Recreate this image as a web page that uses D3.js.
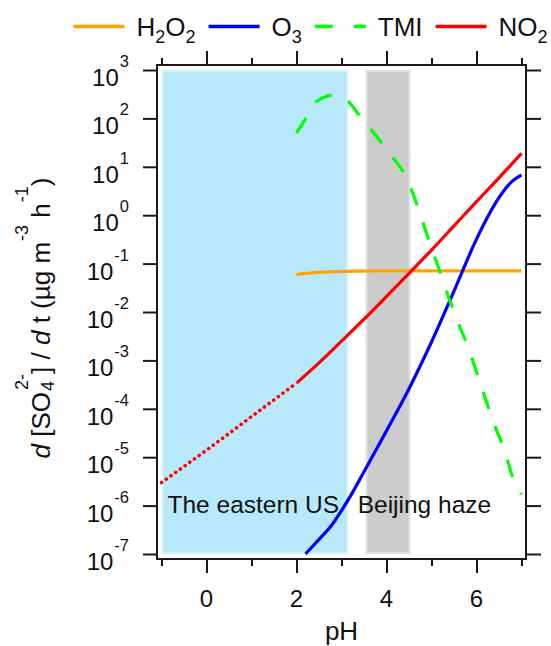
<!DOCTYPE html>
<html>
<head>
<meta charset="utf-8">
<script src="https://cdn.jsdelivr.net/npm/d3@7"></script>
<style>
  body { margin: 0; background: #fff; }
  svg { display: block; font-family: "Liberation Sans", Arial, sans-serif; }
</style>
</head>
<body>
<script>
const width = 551;
const height = 646;

// pH values and rates (µg m-3 h-1)
const h2o2PH = [2, 2.5, 3, 3.5, 4, 5, 6, 7];
const h2o2Rate = [0.060, 0.066, 0.069, 0.070, 0.071, 0.071, 0.071, 0.071];

const o3PH = [2.2, 2.5, 2.75, 3, 3.25, 3.5, 4, 4.5, 5, 5.5, 6, 6.25, 6.5, 6.75, 7];
const o3Rate = [1e-7, 2.0e-7, 3.6e-7, 7.9e-7, 1.9e-6, 5.0e-6, 3.5e-5, 2.6e-4, 2.4e-3, 2.7e-2, 0.32, 0.93, 2.3, 4.6, 6.8];

const tmiPH = [2, 2.2, 2.4, 2.6, 2.8, 3, 3.2, 3.4, 3.6, 3.8, 4, 4.2, 4.4, 4.6, 4.8, 5, 5.2, 5.4, 5.6, 5.8, 6, 6.2, 6.4, 6.6, 6.8, 7];
const tmiRate = [50, 98, 204, 269, 302, 282, 200, 115, 69, 40, 23, 13.2, 7.1, 2.6, 0.76, 0.21, 0.063, 0.018,
  5.8e-3, 2.0e-3, 5.8e-4, 1.6e-4, 4.6e-5, 1.6e-5, 4.0e-6, 1.7e-6];

const no2PH = [2, 2.5, 3, 3.5, 4, 4.5, 5, 5.5, 6, 6.5, 7];
const no2Rate = [3.4e-4, 8.9e-4, 2.5e-3, 7.1e-3, 2.1e-2, 6.3e-2, 0.19, 0.60, 1.9, 5.9, 19];

// extrapolated NO2 (dotted)
const no2ExtPH = [-1, 0, 1, 2];
const no2ExtRate = [3.0e-6, 1.4e-5, 6.9e-5, 3.4e-4];

const seriesNames = ["H2O2", "O3", "TMI", "NO2"];
const seriesColors = ["#FFA500", "#0000FF", "#00FF00", "#FF0000"];

const regionNames = ["The eastern US", "Beijing haze"];
const regionFrom = [-1, 3.54];
const regionTo = [3.15, 4.53];
const regionFill = ["#b8e9fb", "#cccccc"];
const regionEdge = ["#d6f3fd", "#dddddd"];

const phMajor = [0, 2, 4, 6];
const phMinor = [-1, 1, 3, 5, 7];
const rateDecades = [-7, -6, -5, -4, -3, -2, -1, 0, 1, 2, 3];

const frameColor = "#1a1a1a";

const x = d3.scaleLinear().domain([-1.1, 7.1]).range([157, 526]);
const y = d3.scaleLog().domain([1e-7, 1e3]).range([554, 70]);
const frameTop = 65;
const frameBottom = 559;

const svg = d3.select("body")
  .append("svg")
  .attr("width", width)
  .attr("height", height);

// shaded regions
regionNames.forEach(function (name, i) {
  svg.append("rect")
    .attr("x", x(regionFrom[i]) + 1)
    .attr("y", y(1e3) + 1)
    .attr("width", x(regionTo[i]) - x(regionFrom[i]) - 2)
    .attr("height", y(1e-7) - y(1e3) - 2)
    .attr("fill", regionFill[i])
    .attr("stroke", regionEdge[i])
    .attr("stroke-width", 2);
});

const lineFunc = d3.line()
  .x(function (d) { return x(d[0]); })
  .y(function (d) { return y(d[1]); })
  .curve(d3.curveMonotoneX);

function pairs(xs, ys) {
  return xs.map(function (v, i) { return [v, ys[i]]; });
}

const series = [
  pairs(h2o2PH, h2o2Rate),
  pairs(o3PH, o3Rate),
  pairs(tmiPH, tmiRate),
  pairs(no2PH, no2Rate)
];
const dashes = [null, null, "18 18", null];

// NO2 dotted extrapolation
svg.append("path")
  .attr("d", lineFunc(pairs(no2ExtPH, no2ExtRate)))
  .attr("fill", "none")
  .attr("stroke", seriesColors[3])
  .attr("stroke-width", 3.6)
  .attr("stroke-linecap", "round")
  .attr("stroke-dasharray", "0.1 5.7");

series.forEach(function (data, i) {
  svg.append("path")
    .attr("d", lineFunc(data))
    .attr("fill", "none")
    .attr("stroke", seriesColors[i])
    .attr("stroke-width", 3.2)
    .attr("stroke-dasharray", dashes[i]);
});

// region labels
svg.append("text")
  .attr("x", x(regionFrom[0]) + 6)
  .attr("y", y(1e-6) + 7.5)
  .attr("font-size", 24.5)
  .attr("fill", "#111")
  .text(regionNames[0]);
svg.append("text")
  .attr("x", x(3.36))
  .attr("y", y(1e-6) + 7.5)
  .attr("font-size", 24.5)
  .attr("fill", "#111")
  .text(regionNames[1]);

// frame
svg.append("rect")
  .attr("x", x.range()[0])
  .attr("y", frameTop)
  .attr("width", x.range()[1] - x.range()[0])
  .attr("height", frameBottom - frameTop)
  .attr("fill", "none")
  .attr("stroke", frameColor)
  .attr("stroke-width", 2);

function styleAxis(g) {
  g.select(".domain").remove();
  g.selectAll(".tick line").attr("stroke", frameColor).attr("stroke-width", 2);
  g.selectAll(".tick text").remove();
}

// x axes (bottom and top)
svg.append("g").attr("transform", "translate(0," + frameBottom + ")")
  .call(d3.axisBottom(x).tickValues(phMajor).tickSize(14)).call(styleAxis);
svg.append("g").attr("transform", "translate(0," + frameBottom + ")")
  .call(d3.axisBottom(x).tickValues(phMinor).tickSize(7)).call(styleAxis);
svg.append("g").attr("transform", "translate(0," + frameTop + ")")
  .call(d3.axisTop(x).tickValues(phMajor).tickSize(14)).call(styleAxis);
svg.append("g").attr("transform", "translate(0," + frameTop + ")")
  .call(d3.axisTop(x).tickValues(phMinor).tickSize(7)).call(styleAxis);

// y axes (left and right)
const decadeValues = rateDecades.map(function (e) { return Math.pow(10, e); });
svg.append("g").attr("transform", "translate(" + x.range()[0] + ",0)")
  .call(d3.axisLeft(y).tickValues(decadeValues).tickSize(14)).call(styleAxis);
svg.append("g").attr("transform", "translate(" + x.range()[1] + ",0)")
  .call(d3.axisRight(y).tickValues(decadeValues).tickSize(15)).call(styleAxis);

// x tick labels
svg.selectAll("text.xlab")
  .data(phMajor)
  .enter()
  .append("text")
  .attr("class", "xlab")
  .attr("x", function (d) { return x(d); })
  .attr("y", 607)
  .attr("text-anchor", "middle")
  .attr("font-size", 24)
  .attr("fill", "#111")
  .text(function (d) { return d; });

// y tick labels 10^n
const ylab = svg.selectAll("text.ylab")
  .data(rateDecades)
  .enter()
  .append("text")
  .attr("class", "ylab")
  .attr("x", 129)
  .attr("y", function (d) { return y(Math.pow(10, d)) + 16; })
  .attr("text-anchor", "end")
  .attr("font-size", 24)
  .attr("fill", "#111");
ylab.append("tspan").text("10");
ylab.append("tspan")
  .attr("dy", -19)
  .attr("dx", 1)
  .attr("font-size", 16.5)
  .text(function (d) { return d; });

// x title
svg.append("text")
  .attr("x", (x.range()[0] + x.range()[1]) / 2)
  .attr("y", 640)
  .attr("text-anchor", "middle")
  .attr("font-size", 26)
  .attr("fill", "#111")
  .text("pH");

// y title
const yt = svg.append("text")
  .attr("transform", "translate(50,318) rotate(-90)")
  .attr("text-anchor", "middle")
  .attr("font-size", 26)
  .attr("fill", "#111");
yt.append("tspan").attr("font-style", "italic").text("d");
yt.append("tspan").text(" [SO");
yt.append("tspan").attr("font-size", 18).attr("dx", 1).attr("dy", 4).text("4");
yt.append("tspan").attr("font-size", 18).attr("dx", -9).attr("dy", -26).text("2-");
yt.append("tspan").attr("dy", 22).text("] / ");
yt.append("tspan").attr("font-style", "italic").text("d");
yt.append("tspan").text(" t (\u00b5g m");
yt.append("tspan").attr("font-size", 18).attr("dx", 1).attr("dy", -22).text("-3");
yt.append("tspan").attr("dy", 22).text(" h");
yt.append("tspan").attr("font-size", 18).attr("dx", 1).attr("dy", -22).text("-1");
yt.append("tspan").attr("dy", 22).text(")");

// legend
let lx = 73.5;
const legendY = 26.5;
seriesNames.forEach(function (name, i) {
  svg.append("line")
    .attr("x1", lx)
    .attr("x2", lx + 51)
    .attr("y1", legendY)
    .attr("y2", legendY)
    .attr("stroke", seriesColors[i])
    .attr("stroke-width", 3.5)
    .attr("stroke-dasharray", i === 2 ? "18 21" : null);
  const t = svg.append("text")
    .attr("x", lx + 63)
    .attr("y", 35.5)
    .attr("font-size", 26)
    .attr("fill", "#111");
  // split digits into subscripts
  const parts = name.match(/[A-Za-z]+|[0-9]+/g);
  let down = false;
  parts.forEach(function (p) {
    const isNum = /^[0-9]+$/.test(p);
    const ts = t.append("tspan").text(p);
    if (isNum) {
      ts.attr("font-size", 18).attr("dy", 7);
      down = true;
    } else if (down) {
      ts.attr("dy", -7);
      down = false;
    }
  });
  lx = lx + 63 + t.node().getComputedTextLength() + 13;
});
</script>
</body>
</html>
